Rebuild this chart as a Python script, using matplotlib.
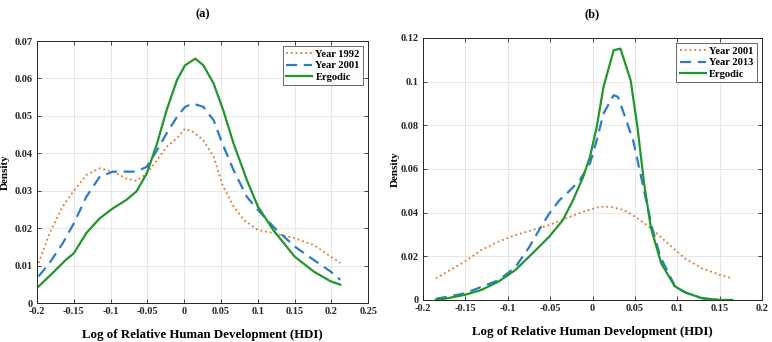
import numpy as np
import matplotlib
matplotlib.use("Agg")
import matplotlib.pyplot as plt

# ---------- Panel (a) data ----------
a_x_1992 = [-0.198, -0.183, -0.165, -0.150, -0.133, -0.115, -0.097, -0.079, -0.065, -0.051,
            -0.037, -0.024, -0.010, 0.001, 0.012, 0.026, 0.040, 0.053, 0.067, 0.081,
            0.100, 0.121, 0.150, 0.176, 0.199, 0.212]
a_y_1992 = [0.0107, 0.0187, 0.0258, 0.0300, 0.0342, 0.0360, 0.0351, 0.0333, 0.0326, 0.0346,
            0.0382, 0.0417, 0.0440, 0.0466, 0.0457, 0.0435, 0.0390, 0.0310, 0.0258, 0.0222,
            0.0195, 0.0187, 0.0173, 0.0155, 0.0124, 0.0107]

a_x_2001 = [-0.198, -0.183, -0.165, -0.150, -0.133, -0.115, -0.097, -0.079, -0.065, -0.051,
            -0.037, -0.024, -0.010, 0.001, 0.012, 0.026, 0.040, 0.050, 0.067, 0.085,
            0.100, 0.121, 0.150, 0.176, 0.199, 0.212]
a_y_2001 = [0.0071, 0.0107, 0.0160, 0.0213, 0.0284, 0.0337, 0.0351, 0.0351, 0.0351, 0.0364,
            0.0408, 0.0453, 0.0497, 0.0524, 0.0533, 0.0524, 0.0488, 0.0435, 0.0355, 0.0284,
            0.0249, 0.0204, 0.0151, 0.0115, 0.0084, 0.0062]

a_x_erg = [-0.198, -0.179, -0.161, -0.150, -0.133, -0.115, -0.097, -0.079, -0.065, -0.051,
           -0.037, -0.024, -0.010, 0.001, 0.015, 0.026, 0.040, 0.053, 0.067, 0.085,
           0.100, 0.121, 0.150, 0.176, 0.199, 0.212]
a_y_erg = [0.0044, 0.0080, 0.0115, 0.0133, 0.0187, 0.0226, 0.0253, 0.0275, 0.0298, 0.0346,
           0.0426, 0.0515, 0.0595, 0.0635, 0.0653, 0.0635, 0.0586, 0.0515, 0.0426, 0.0329,
           0.0258, 0.0195, 0.0124, 0.0084, 0.0058, 0.0049]

# ---------- Panel (b) data ----------
b_x_2001 = [-0.185, -0.171, -0.151, -0.131, -0.111, -0.091, -0.071, -0.051, -0.031, -0.011,
            0.009, 0.021, 0.037, 0.053, 0.069, 0.089, 0.109, 0.129, 0.151, 0.165]
b_y_2001 = [0.0099, 0.0130, 0.0175, 0.0229, 0.0267, 0.0297, 0.0320, 0.0343, 0.0374, 0.0404,
            0.0427, 0.0427, 0.0412, 0.0374, 0.0328, 0.0259, 0.0190, 0.0145, 0.0114, 0.0099]

b_x_2013 = [-0.185, -0.171, -0.151, -0.131, -0.111, -0.091, -0.075, -0.063, -0.051, -0.039,
            -0.027, -0.015, -0.003, 0.005, 0.013, 0.025, 0.030, 0.037, 0.048, 0.060,
            0.070, 0.080, 0.097, 0.109, 0.129, 0.149]
b_y_2013 = [0.0005, 0.0015, 0.0030, 0.0060, 0.0090, 0.0150, 0.0240, 0.0320, 0.0396, 0.0457,
            0.0500, 0.0549, 0.0625, 0.0732, 0.0854, 0.0938, 0.0930, 0.0854, 0.0730, 0.0517,
            0.0335, 0.0198, 0.0065, 0.0035, 0.0008, 0.0000]

b_x_erg = [-0.185, -0.171, -0.151, -0.131, -0.111, -0.091, -0.071, -0.051, -0.035, -0.023,
           -0.011, -0.003, 0.005, 0.013, 0.025, 0.033, 0.045, 0.053, 0.061, 0.069,
           0.081, 0.097, 0.109, 0.129, 0.149, 0.165]
b_y_erg = [0.0000, 0.0008, 0.0023, 0.0046, 0.0084, 0.0137, 0.0213, 0.0290, 0.0366, 0.0457,
           0.0564, 0.0656, 0.0793, 0.0976, 0.1144, 0.1151, 0.1006, 0.0793, 0.0530, 0.0330,
           0.0168, 0.0063, 0.0035, 0.0008, 0.0000, 0.0000]

a_labels = ["Year 1992", "Year 2001", "Ergodic"]
b_labels = ["Year 2001", "Year 2013", "Ergodic"]
xlabel = "Log of Relative Human Development (HDI)"
ylabel = "Density"

ORANGE = "#E0782C"
BLUE = "#2F7BC6"
GREEN = "#22962E"

plt.rcParams['font.family'] = ['Liberation Serif', 'DejaVu Serif']
plt.rcParams['font.weight'] = 'bold'

fig = plt.figure(figsize=(7.72, 3.42), dpi=100)
axA = fig.add_axes([0.048, 0.114, 0.429, 0.766])
axB = fig.add_axes([0.548, 0.123, 0.439, 0.766])


def style(ax, xlim, ylim, xticks, yticks, xtl, ytl, ylab_x):
    ax.set_xlim(*xlim)
    ax.set_ylim(*ylim)
    ax.set_xticks(xticks)
    ax.set_yticks(yticks)
    ax.set_xticklabels(xtl, fontsize=7.5, fontweight='bold')
    ax.set_yticklabels(ytl, fontsize=7.5, fontweight='bold')
    ax.tick_params(direction='in', length=3, width=0.6, top=True, right=True,
                   colors='#262626')
    ax.tick_params(axis='x', pad=3)
    ax.tick_params(axis='y', pad=3)
    ax.grid(True, color='#E3E3E3', linewidth=0.6)
    ax.set_axisbelow(True)
    for s in ax.spines.values():
        s.set_linewidth(0.7)
        s.set_color('#262626')
    ax.set_xlabel(xlabel, fontsize=9.3, fontweight='bold', labelpad=9)
    ax.set_ylabel(ylabel, fontsize=8, fontweight='bold')
    ax.yaxis.set_label_coords(ylab_x, 0.5)


axA.plot(a_x_1992, a_y_1992, ':', color=ORANGE, lw=1.3, label=a_labels[0])
axA.plot(a_x_2001, a_y_2001, '--', color=BLUE, lw=1.6, dashes=(5, 3), label=a_labels[1])
axA.plot(a_x_erg, a_y_erg, '-', color=GREEN, lw=1.6, label=a_labels[2])
xt = [-0.2, -0.15, -0.1, -0.05, 0, 0.05, 0.1, 0.15, 0.2, 0.25]
yt = [0, 0.01, 0.02, 0.03, 0.04, 0.05, 0.06, 0.07]
style(axA, (-0.2, 0.25), (0, 0.07), xt, yt,
      ['-0.2', '-0.15', '-0.1', '-0.05', '0', '0.05', '0.1', '0.15', '0.2', '0.25'],
      ['0', '0.01', '0.02', '0.03', '0.04', '0.05', '0.06', '0.07'], -0.082)
axA.set_title("(a)", fontsize=9, fontweight='bold', pad=17)

axB.plot(b_x_2001, b_y_2001, ':', color=ORANGE, lw=1.3, label=b_labels[0])
axB.plot(b_x_2013, b_y_2013, '--', color=BLUE, lw=1.6, dashes=(5, 3), label=b_labels[1])
axB.plot(b_x_erg, b_y_erg, '-', color=GREEN, lw=1.6, label=b_labels[2])
xt = [-0.2, -0.15, -0.1, -0.05, 0, 0.05, 0.1, 0.15, 0.2]
yt = [0, 0.02, 0.04, 0.06, 0.08, 0.1, 0.12]
style(axB, (-0.2, 0.2), (0, 0.12), xt, yt,
      ['-0.2', '-0.15', '-0.1', '-0.05', '0', '0.05', '0.1', '0.15', '0.2'],
      ['0', '0.02', '0.04', '0.06', '0.08', '0.1', '0.12'], -0.068)
axB.set_title("(b)", fontsize=9, fontweight='bold', pad=15)

for ax in (axA, axB):
    leg = ax.legend(loc='upper right', fontsize=7.6, frameon=True, fancybox=False,
                    handlelength=2.5, handletextpad=0.3, borderpad=0.3, labelspacing=0.2,
                    borderaxespad=0.5)
    leg.get_frame().set_edgecolor('#262626')
    leg.get_frame().set_linewidth(0.6)
    for t in leg.get_texts():
        t.set_fontweight('bold')

fig.savefig("out.png", dpi=100)
